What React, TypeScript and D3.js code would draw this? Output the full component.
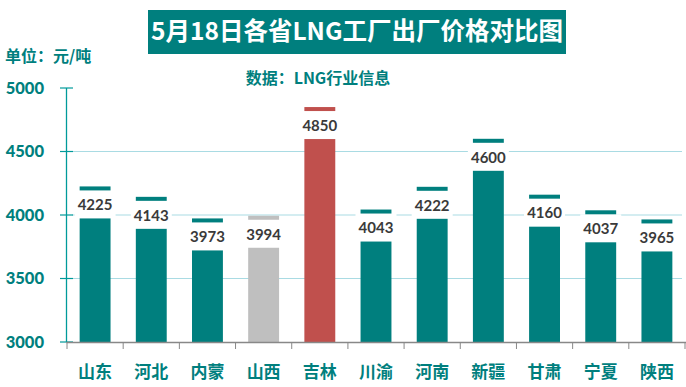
import * as d3 from "d3";

const categories = ["山东", "河北", "内蒙", "山西", "吉林", "川渝", "河南", "新疆", "甘肃", "宁夏", "陕西"];
const prices = [4225, 4143, 3973, 3994, 4850, 4043, 4222, 4600, 4160, 4037, 3965];
const yTicks = [3000, 3500, 4000, 4500, 5000];
const gridTicks = [3500, 4000, 4500];

const TEAL = "#007f7e";
const barColor = (i: number) => (i === 3 ? "#bfbfbf" : i === 4 ? "#c0504d" : TEAL);

const NUM_FONT = "Lato, 'Noto Sans', sans-serif";
const CJK_FONT = "'Noto Sans CJK SC', sans-serif";

export default function App() {
  const width = 686;
  const height = 387;

  const y = d3.scaleLinear().domain([3000, 5000]).range([342, 88]);
  const x = d3
    .scaleBand<string>()
    .domain(categories)
    .range([67, 685])
    .paddingInner(0.45)
    .paddingOuter(0.225);

  const step = x.step();
  const bw = x.bandwidth();
  const boundaries = d3.range(categories.length + 1).map((i) => 67 + i * step);

  return (
    <svg
      width={width}
      height={height}
      style={{ position: "absolute", left: 0, top: 0, background: "#fff" }}
    >
      {/* title */}
      <rect x={148} y={10} width={418} height={44} fill={TEAL} />
      <text
        x={357}
        y={40}
        textAnchor="middle"
        fill="#fff"
        fontFamily={CJK_FONT}
        fontWeight="bold"
        fontSize={24.5}
      >
        5月18日各省LNG工厂出厂价格对比图
      </text>
      <text x={5} y={62} fill={TEAL} fontFamily={CJK_FONT} fontWeight="bold" fontSize={16}>
        单位：元/吨
      </text>
      <text x={318} y={84} textAnchor="middle" fill={TEAL} fontFamily={CJK_FONT} fontWeight="bold" fontSize={16}>
        数据：LNG行业信息
      </text>

      {/* grid */}
      {gridTicks.map((t) => (
        <line key={t} x1={72} x2={682} y1={y(t)} y2={y(t)} stroke="#a9dbe3" strokeWidth={1.2} />
      ))}

      {/* bars */}
      {prices.map((v, i) => {
        const cx = x(categories[i])! + bw / 2;
        const top = y(v);
        return (
          <g key={categories[i]}>
            <rect x={x(categories[i])} y={top} width={bw} height={y(3000) - top} fill={barColor(i)} />
            <rect x={cx - 20.5} y={top + 4} width={41} height={28} fill="#fff" />
            <text
              x={cx}
              y={top + 18.5}
              dy="0.35em"
              textAnchor="middle"
              fill="#3a3a3a"
              fontFamily={NUM_FONT}
              fontWeight="bold"
              fontSize={15}
            >
              {v}
            </text>
          </g>
        );
      })}

      {/* y axis */}
      <line x1={66.5} x2={66.5} y1={y(5000)} y2={y(3000)} stroke="#009a9a" strokeWidth={1.3} />
      {yTicks.map((t) => (
        <g key={t}>
          <line x1={60} x2={73} y1={y(t)} y2={y(t)} stroke="#009a9a" strokeWidth={1.2} />
          <text
            x={44}
            y={y(t)}
            dy="0.35em"
            textAnchor="end"
            fill={TEAL}
            fontFamily={NUM_FONT}
            fontWeight="900"
            fontSize={16.5}
          >
            {t}
          </text>
        </g>
      ))}

      {/* x axis */}
      <line x1={66.5} x2={686} y1={342.5} y2={342.5} stroke="#888" strokeWidth={1.3} />
      {boundaries.map((b, i) => (
        <line key={i} x1={b} x2={b} y1={342} y2={349} stroke="#888" strokeWidth={1} />
      ))}
      {categories.map((c) => (
        <text
          key={c}
          x={x(c)! + bw / 2}
          y={372}
          dy="0.35em"
          textAnchor="middle"
          fill={TEAL}
          fontFamily={CJK_FONT}
          fontWeight="bold"
          fontSize={17}
        >
          {c}
        </text>
      ))}
    </svg>
  );
}
